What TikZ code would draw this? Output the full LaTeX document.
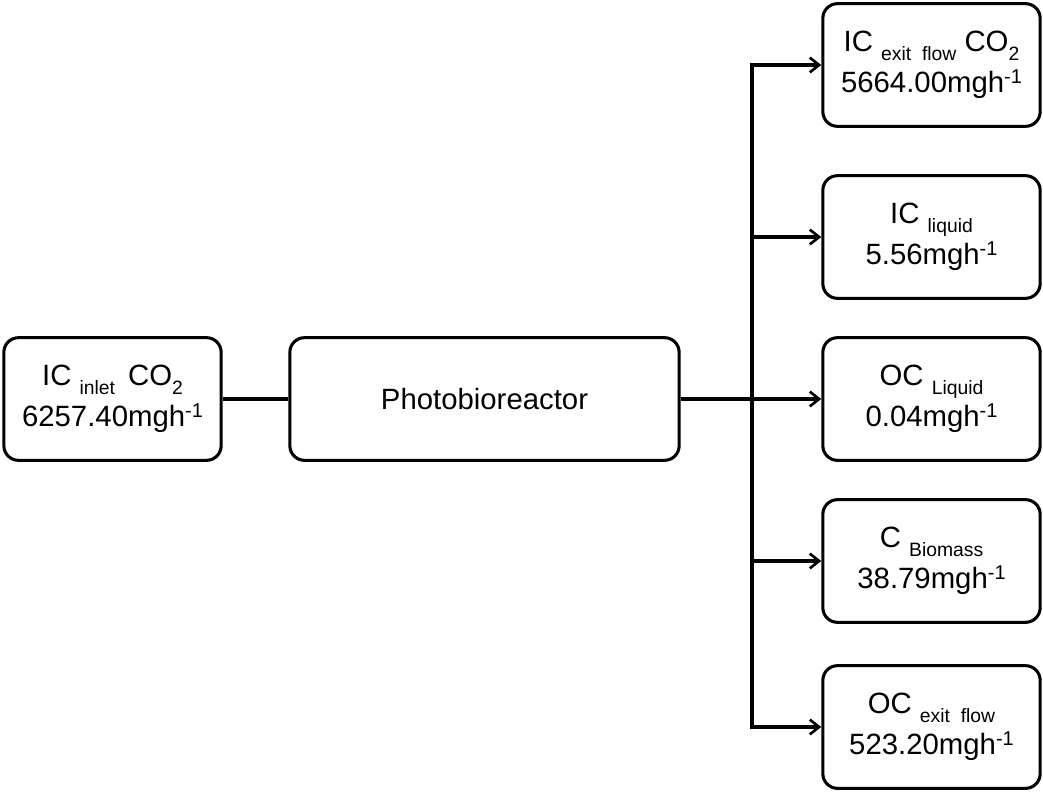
\documentclass[tikz,border=0pt]{standalone}
\usepackage{fontspec}
\setmainfont{Liberation Sans}
\usepackage{tikz}
\usetikzlibrary{arrows.meta, positioning}
\newcommand{\lowsub}[1]{\raisebox{-6.5pt}{\fontsize{14.5}{14.5}\selectfont #1}}
\newcommand{\upsup}[1]{\raisebox{7pt}{\fontsize{15}{15}\selectfont #1}}
\newcommand{\perhour}{mgh\upsup{-1}}

\begin{document}
\begin{tikzpicture}[
    x=0.75pt, y=-0.75pt,
    box/.style={draw, line width=2.3pt, rounded corners=11pt, fill=white, inner sep=0pt, minimum height=92pt, align=center, font=\fontsize{22}{31}\selectfont},
    sidebox/.style={box, minimum width=163pt},
    flow/.style={line width=2.3pt, -{Straight Barb[length=7pt, width=11pt, line width=2pt]}},
    link/.style={line width=2.3pt}
]
    \useasboundingbox (0,0) rectangle (1043,792);

    % Input and reactor
    \node[sidebox] (inlet) at (112.5,399) {IC \lowsub{inlet} \,CO\lowsub{2}\\6257.40\perhour};
    \node[box, minimum width=292pt] (reactor) at (484.5,399) {Photobioreactor};

    % Outputs
    \node[sidebox] (icexit) at (931.5,65) {IC \lowsub{exit\ \ flow} CO\lowsub{2}\\5664.00\perhour};
    \node[sidebox] (icliquid) at (931.5,237) {IC \lowsub{liquid}\\5.56\perhour};
    \node[sidebox] (ocliquid) at (931.5,399) {OC \lowsub{Liquid}\\0.04\perhour};
    \node[sidebox] (cbiomass) at (931.5,561) {C \lowsub{Biomass}\\38.79\perhour};
    \node[sidebox] (ocexit) at (931.5,727) {OC \lowsub{exit\ \ flow}\\523.20\perhour};

    % Split point
    \coordinate (split) at (752,399);

    % Flows
    \draw[link] (inlet) -- (reactor);
    \draw[flow] (reactor) -- (ocliquid);
    \draw[flow] (split) |- (icexit);
    \draw[flow] (split) |- (icliquid);
    \draw[flow] (split) |- (cbiomass);
    \draw[flow] (split) |- (ocexit);
\end{tikzpicture}
\end{document}
